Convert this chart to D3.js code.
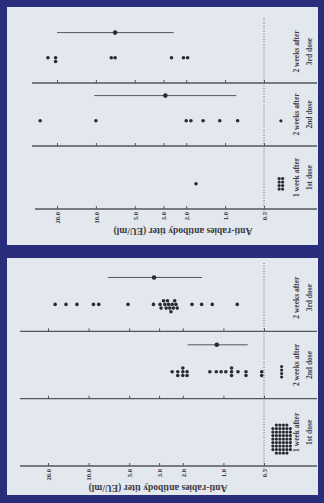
<!DOCTYPE html>
<html><head><meta charset="utf-8">
<script src="https://cdn.jsdelivr.net/npm/d3@7"></script>
<style>body{margin:0;background:#262c78}svg{display:block}</style>
</head><body><svg id="c" width="324" height="503"></svg>
<script>
// ---- data ----
const groups = ["week1_dose1", "weeks2_dose2", "weeks2_dose3"];
const groupLine1 = ["1 week after", "2 weeks after", "2 weeks after"];
const groupLine2 = ["1st dose", "2nd dose", "3rd dose"];
const tickValues = [20, 10, 5, 3, 2, 1, 0.5];
const tickLabels = ["20.0", "10.0", "5.0", "3.0", "2.0", "1.0", "0.5"];
const axisTitle = "Anti-rabies antibody titer (EU/ml)";
const cutoff = 0.5;
const belowValue = 0.37; // plotting position of titers < 0.5

// Panel A (upper)
const a1 = [1.68];
const a2 = [27, 10, 2.0, 1.84, 1.48, 1.10, 0.80];
const a3 = [23.5, 20.5, 20.5, 7.6, 7.1, 2.6, 2.1, 1.95];
const aBelow = [8, 1, 0];
const aGmt = [null, 2.9, 7.1];
const aLow = [null, 0.82, 2.5];
const aHigh = [null, 10.3, 20];

// Panel B (lower)
const b1 = [];
const b2 = [2.4, 2.18, 2.18, 2.0, 2.0, 2.0, 1.86, 1.86, 1.26, 1.13, 1.04, 0.96, 0.87, 0.87, 0.87, 0.78, 0.68, 0.68, 0.52, 0.52];
const b3 = [17.7, 14.7, 12.2, 9.2, 8.4, 5.1, 3.3, 2.95, 2.9, 2.78, 2.72, 2.66, 2.6, 2.55, 2.5, 2.45, 2.4, 2.35, 2.3, 2.25, 2.2, 1.71, 1.45, 1.21, 0.79];
const bBelow = [50, 4, 0];
const bGmt = [null, 1.12, 3.27];
const bLow = [null, 0.66, 1.44];
const bHigh = [null, 1.84, 7.2];

// ---- layout ----
const panels = [
  {vals: [a1, a2, a3], below: aBelow, gmt: aGmt, low: aLow, high: aHigh,
   y0: 7, h: 238, xHi: 57, xLo: 264, axisY: 209, topY: 20, lineStart: 32, axisStart: 35,
   dotTop: 18, titleX: 183, titleY: 228},
  {vals: [b1, b2, b3], below: bBelow, gmt: bGmt, low: bLow, high: bHigh,
   y0: 258, h: 237, xHi: 48, xLo: 264, axisY: 466, topY: 264, lineStart: 20, axisStart: 20,
   dotTop: 263, titleX: 158, titleY: 485}
];

const svg = d3.select("#c");
svg.append("rect").attr("width", 324).attr("height", 503).attr("fill", "#282e7c");

const ink = "#3a3a44";
const r = 1.8, d = 3.7;

function dodge(vals, x) {
  const placed = [];
  return vals.slice().sort((p, q) => q - p).map(v => {
    const px = x(v);
    let off = 0;
    for (let i = 0; i < 40; i++) {
      off = i === 0 ? 0 : (i % 2 ? 1 : -1) * Math.ceil(i / 2) * d;
      if (placed.every(p => Math.hypot(p.px - px, p.off - off) >= d * 0.95)) break;
    }
    placed.push({px, off});
    return {v, px, off};
  });
}

function gridPts(n, cx, cy) {
  if (!n) return [];
  const rows = n <= 4 ? n : n <= 8 ? 4 : 9;
  const cols = Math.ceil(n / rows);
  let cells = [];
  for (let c = 0; c < cols; c++) for (let k = 0; k < rows; k++) cells.push({c, k});
  let extra = cols * rows - n;
  const corners = [[0, 0], [cols - 1, 0], [0, rows - 1], [cols - 1, rows - 1]];
  for (const [cc, kk] of corners) {
    if (extra <= 0) break;
    cells = cells.filter(e => !(e.c === cc && e.k === kk)); extra--;
  }
  const s = 3.5;
  return cells.map(e => ({x: cx + (e.c - (cols - 1) / 2) * s, y: cy + (e.k - (rows - 1) / 2) * s}));
}

panels.forEach(P => {
  const g = svg.append("g");
  g.append("rect").attr("x", 7).attr("y", P.y0).attr("width", 311).attr("height", P.h)
    .attr("fill", "#e3e7ee");

  const x = d3.scaleLog().domain([cutoff, 20]).range([P.xLo, P.xHi]);
  const band = d3.scaleBand().domain(groups).range([P.axisY, P.topY]);
  const bw = band.bandwidth();

  // row separator lines with ticks
  groups.forEach((grp, i) => {
    const yLine = band(grp) + bw;
    const isAxis = i === 0;
    g.append("line").attr("x1", isAxis ? P.axisStart : P.lineStart).attr("x2", 317)
      .attr("y1", yLine).attr("y2", yLine).attr("stroke", "#55555f").attr("stroke-width", 1.3);
    const ax = d3.axisBottom(x).tickValues(tickValues).tickSizeInner(-3).tickSizeOuter(0)
      .tickFormat((v, j) => isAxis ? tickLabels[j] : "");
    const ag = g.append("g").attr("transform", `translate(0,${yLine})`).call(ax);
    ag.select(".domain").remove();
    ag.selectAll(".tick line").attr("stroke", "#55555f").attr("stroke-width", 1);
    ag.selectAll(".tick text")
      .attr("transform", "rotate(-90)").attr("x", -3).attr("y", 0).attr("dy", "0.35em")
      .attr("text-anchor", "end").attr("fill", ink)
      .attr("font-family", "Liberation Serif").attr("font-size", 6.5).attr("font-weight", "bold");
  });

  // cutoff dotted line
  g.append("line").attr("x1", x(cutoff)).attr("x2", x(cutoff))
    .attr("y1", P.dotTop).attr("y2", P.axisY + 4)
    .attr("stroke", "#66666f").attr("stroke-width", 1).attr("stroke-dasharray", "1,1.6");

  // data points
  groups.forEach((grp, i) => {
    const cy = band(grp) + bw * 0.6;
    const pts = dodge(P.vals[i], x);
    g.selectAll(null).data(pts).enter().append("circle")
      .attr("cx", p => p.px).attr("cy", p => cy + p.off).attr("r", r).attr("fill", "#2a2a33");
    const gp = gridPts(P.below[i], x(belowValue), cy);
    g.selectAll(null).data(gp).enter().append("circle")
      .attr("cx", p => p.x).attr("cy", p => p.y).attr("r", 1.6).attr("fill", "#2a2a33");
    if (P.gmt[i] != null) {
      const my = band(grp) + bw * 0.2;
      g.append("line").attr("x1", x(P.high[i])).attr("x2", x(P.low[i]))
        .attr("y1", my).attr("y2", my).attr("stroke", "#55555f").attr("stroke-width", 1);
      g.append("circle").attr("cx", x(P.gmt[i])).attr("cy", my).attr("r", 2.3).attr("fill", "#2a2a33");
    }
    // category labels
    const cyc = band(grp) + bw / 2;
    g.append("text").attr("transform", `translate(299,${cyc}) rotate(-90)`)
      .attr("text-anchor", "middle").attr("fill", ink)
      .attr("font-family", "Liberation Serif").attr("font-size", 7.5).attr("font-weight", "bold")
      .text(groupLine1[i]);
    g.append("text").attr("transform", `translate(312,${cyc}) rotate(-90)`)
      .attr("text-anchor", "middle").attr("fill", ink)
      .attr("font-family", "Liberation Serif").attr("font-size", 7.5).attr("font-weight", "bold")
      .text(groupLine2[i]);
  });

  // axis title (upside down)
  g.append("text").attr("transform", `translate(${P.titleX},${P.titleY}) rotate(180)`)
    .attr("text-anchor", "middle").attr("fill", ink)
    .attr("font-family", "Liberation Serif").attr("font-size", 9.5).attr("font-weight", "bold")
    .text(axisTitle);
});
</script>
</body></html>
